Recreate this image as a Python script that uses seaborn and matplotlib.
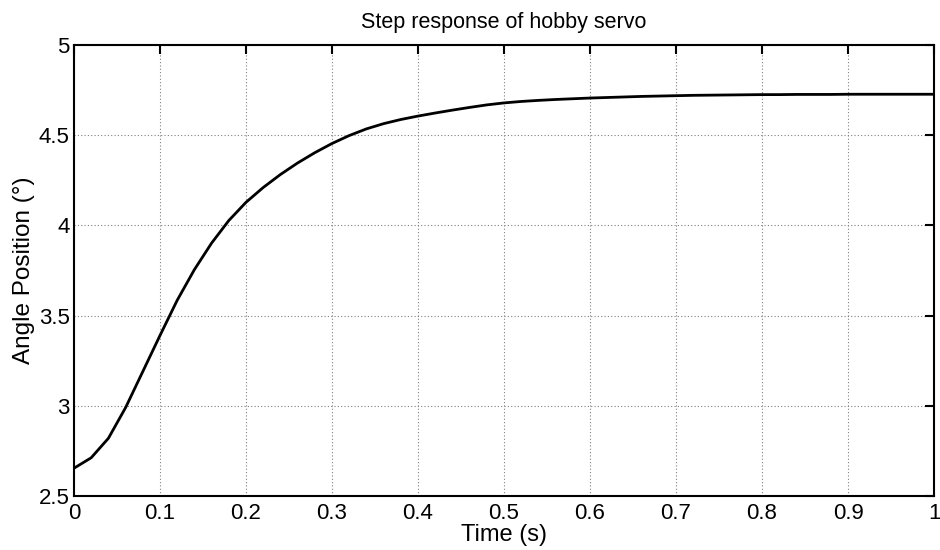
import numpy as np
import pandas as pd
import matplotlib
matplotlib.use("Agg")
import matplotlib.pyplot as plt
import seaborn as sns

time_s = [0.00, 0.02, 0.04, 0.06, 0.08, 0.10, 0.12, 0.14, 0.16, 0.18,
          0.20, 0.22, 0.24, 0.26, 0.28, 0.30, 0.32, 0.34, 0.36, 0.38,
          0.40, 0.42, 0.44, 0.46, 0.48, 0.50, 0.52, 0.54, 0.56, 0.58,
          0.60, 0.62, 0.64, 0.66, 0.68, 0.70, 0.72, 0.74, 0.76, 0.78,
          0.80, 0.82, 0.84, 0.86, 0.88, 0.90, 0.92, 0.94, 0.96, 0.98, 1.00]
angle_deg = [2.654, 2.712, 2.820, 2.990, 3.190, 3.390, 3.585, 3.755, 3.902, 4.027,
             4.128, 4.210, 4.282, 4.346, 4.403, 4.454, 4.498, 4.535, 4.564, 4.587,
             4.606, 4.623, 4.639, 4.654, 4.668, 4.679, 4.687, 4.693, 4.698, 4.702,
             4.706, 4.709, 4.712, 4.715, 4.717, 4.719, 4.721, 4.722, 4.723, 4.724,
             4.725, 4.725, 4.726, 4.726, 4.726, 4.727, 4.727, 4.727, 4.727, 4.727, 4.727]
x_ticks = [0, 0.1, 0.2, 0.3, 0.4, 0.5, 0.6, 0.7, 0.8, 0.9, 1]
x_tick_labels = ["0", "0.1", "0.2", "0.3", "0.4", "0.5", "0.6", "0.7", "0.8", "0.9", "1"]
y_ticks = [2.5, 3, 3.5, 4, 4.5, 5]
y_tick_labels = ["2.5", "3", "3.5", "4", "4.5", "5"]

df = pd.DataFrame({"Time": time_s, "Angle": angle_deg})

sns.set_style("white")
plt.rcParams["font.family"] = ["Liberation Sans", "DejaVu Sans"]
plt.rcParams["text.color"] = "black"
plt.rcParams["axes.labelcolor"] = "black"

fig = plt.figure(figsize=(9.4, 5.5), dpi=100)
ax = fig.add_axes([74/940, 54/550, 860/940, 451/550])

sns.lineplot(data=df, x="Time", y="Angle", ax=ax, color="black", linewidth=2.0)

ax.set_xlim(0, 1)
ax.set_ylim(2.5, 5)
ax.set_xticks(x_ticks)
ax.set_xticklabels(x_tick_labels)
ax.set_yticks(y_ticks)
ax.set_yticklabels(y_tick_labels)

ax.grid(True, linestyle=(0, (1, 2)), color="#808080", linewidth=0.8)
ax.tick_params(direction="in", length=6.5, width=1.5, top=True, right=True,
               labelsize=16, colors="black")
ax.tick_params(axis="x", pad=5)
ax.tick_params(axis="y", pad=3)
for s in ax.spines.values():
    s.set_visible(True)
    s.set_color("black")
    s.set_linewidth(1.5)

ax.set_xlabel("Time (s)", fontsize=17, labelpad=0, color="black")
ax.set_ylabel("Angle Position (°)", fontsize=17.5, labelpad=3, color="black")
ax.set_title("Step response of hobby servo", fontsize=15.5, pad=12, color="black")

fig.savefig("out.png", dpi=100)
